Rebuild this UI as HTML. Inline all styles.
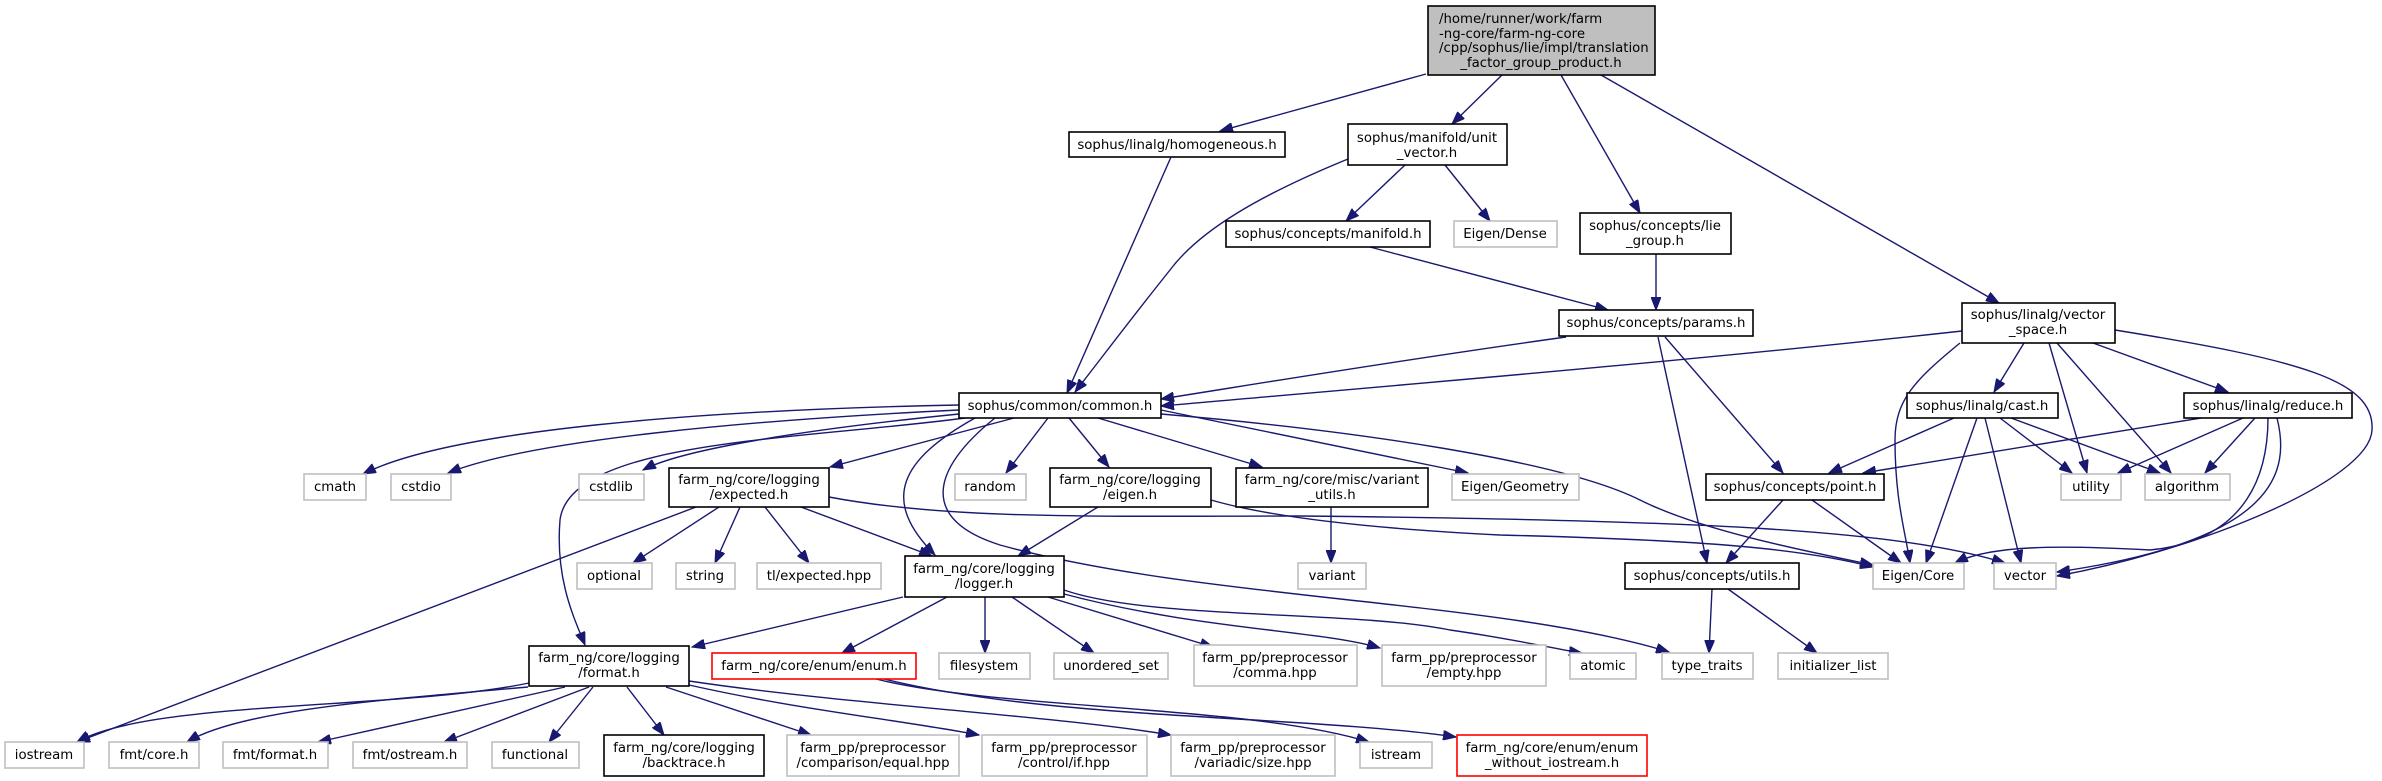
<!DOCTYPE html>
<html><head><meta charset="utf-8"><style>
html,body{margin:0;padding:0;background:#fff;}
svg{display:block;}
text{font-family:"DejaVu Sans","Liberation Sans",sans-serif;font-size:13.3px;fill:#000;}
.b{fill:#fff;stroke:#000;stroke-width:1.6;}
.g{fill:#fff;stroke:#bfbfbf;stroke-width:1.6;}
.r{fill:#fff;stroke:#ff0000;stroke-width:1.6;}
.e{fill:none;stroke:#191970;stroke-width:1.4;marker-end:url(#a);}
</style></head><body>
<svg width="2382" height="781" viewBox="0 0 2382 781" xmlns="http://www.w3.org/2000/svg">
<defs><marker id="a" markerUnits="userSpaceOnUse" markerWidth="14" markerHeight="10" refX="13" refY="5" orient="auto"><path d="M0,0 L13,5 L0,10 z" fill="#191970" stroke="#191970"/></marker></defs>

<!-- edges -->
<path class="e" d="M1426,74 L1220,131"/>
<path class="e" d="M1502,75 L1452,124"/>
<path class="e" d="M1561,75 L1640,213"/>
<path class="e" d="M1601,75 L1999,303"/>
<path class="e" d="M1171,157 L1067,393"/>
<path class="e" d="M1348,159 C1260,195 1200,230 1170,270 C1130,320 1100,360 1075,392"/>
<path class="e" d="M1405,165 L1346,221"/>
<path class="e" d="M1445,165 L1490,221"/>
<path class="e" d="M1370,247 L1608,310"/>
<path class="e" d="M1656,254 L1656,310"/>
<path class="e" d="M1566,337 C1400,360 1250,385 1161,399"/>
<path class="e" d="M1962,331 C1700,360 1400,385 1161,406"/>
<path class="e" d="M1658,337 L1707,563"/>
<path class="e" d="M1665,337 L1783,473"/>
<path class="e" d="M2024,343 L1994,392"/>
<path class="e" d="M2093,343 L2228,392"/>
<path class="e" d="M1960,343 C1915,380 1895,400 1895,440 C1895,500 1905,530 1910,563"/>
<path class="e" d="M2049,343 L2087,473"/>
<path class="e" d="M2057,343 L2171,473"/>
<path class="e" d="M2115,330 C2300,360 2375,380 2372,430 C2370,480 2200,550 2057,576"/>
<path class="e" d="M1954,418 L1829,473"/>
<path class="e" d="M1977,418 L1926,563"/>
<path class="e" d="M1985,418 L2021,563"/>
<path class="e" d="M2000,418 L2072,473"/>
<path class="e" d="M2011,418 L2160,473"/>
<path class="e" d="M2201,418 L1863,473"/>
<path class="e" d="M2243,418 L2118,473"/>
<path class="e" d="M2255,418 L2205,473"/>
<path class="e" d="M2268,418 C2268,470 2250,540 2150,550 C2060,545 1990,545 1955,563"/>
<path class="e" d="M2277,418 C2290,470 2280,540 2057,572"/>
<path class="e" d="M1783,500 L1726,563"/>
<path class="e" d="M1812,500 L1901,563"/>
<path class="e" d="M1712,589 L1709,653"/>
<path class="e" d="M1728,589 L1817,653"/>
<path class="e" d="M959,405 C700,410 450,430 363,474"/>
<path class="e" d="M959,410 C750,420 530,440 448,473"/>
<path class="e" d="M959,414 C800,430 680,450 643,470"/>
<path class="e" d="M1014,418 L830,467"/>
<path class="e" d="M1048,418 L1006,473"/>
<path class="e" d="M1069,418 L1109,467"/>
<path class="e" d="M1098,418 L1262,467"/>
<path class="e" d="M1161,410 L1468,473"/>
<path class="e" d="M1161,414 C1350,430 1560,460 1640,500 C1700,530 1800,550 1873,565"/>
<path class="e" d="M965,418 C800,440 570,440 560,520 C555,580 575,620 585,645"/>
<path class="e" d="M975,418 C900,460 880,500 935,555"/>
<path class="e" d="M995,418 C930,470 920,520 1000,545 C1200,600 1500,600 1669,652"/>
<path class="e" d="M696,507 L77,742"/>
<path class="e" d="M719,507 L633,563"/>
<path class="e" d="M740,507 L715,563"/>
<path class="e" d="M765,507 L809,563"/>
<path class="e" d="M801,507 L932,556"/>
<path class="e" d="M829,497 C950,520 1100,516 1300,516 C1700,520 1900,530 2005,563"/>
<path class="e" d="M1098,507 L1018,556"/>
<path class="e" d="M1211,500 C1280,520 1400,530 1500,535 C1700,540 1800,548 1873,567"/>
<path class="e" d="M1331,507 L1331,563"/>
<path class="e" d="M903,597 L692,647"/>
<path class="e" d="M947,597 L842,653"/>
<path class="e" d="M985,597 L985,653"/>
<path class="e" d="M1012,597 L1094,653"/>
<path class="e" d="M1048,597 L1213,647"/>
<path class="e" d="M1064,594 C1200,630 1320,630 1380,648"/>
<path class="e" d="M1064,590 C1150,620 1350,610 1450,630 C1520,640 1560,650 1582,653"/>
<path class="e" d="M529,683 C400,710 150,700 77,742"/>
<path class="e" d="M528,687 C380,700 240,710 187,742"/>
<path class="e" d="M565,687 L318,742"/>
<path class="e" d="M589,687 L444,742"/>
<path class="e" d="M593,687 L549,742"/>
<path class="e" d="M627,687 L664,735"/>
<path class="e" d="M666,687 L811,735"/>
<path class="e" d="M689,685 C800,710 900,720 979,735"/>
<path class="e" d="M689,681 C850,705 1050,715 1171,735"/>
<path class="e" d="M876,679 C1000,710 1250,705 1369,742"/>
<path class="e" d="M884,679 C1050,720 1300,715 1456,737"/>

<!-- nodes -->
<rect x="1428" y="6" width="227" height="69" fill="#bfbfbf" stroke="#000" stroke-width="1.6"/>
<text x="1439" y="23">/home/runner/work/farm</text>
<text x="1439" y="38">-ng-core/farm-ng-core</text>
<text x="1439" y="52">/cpp/sophus/lie/impl/translation</text>
<text x="1541" y="67" text-anchor="middle">_factor_group_product.h</text>

<g text-anchor="middle">
<rect class="b" x="1069" y="132" width="216" height="25"/><text x="1177" y="149">sophus/linalg/homogeneous.h</text>
<rect class="b" x="1348" y="124" width="159" height="41"/><text x="1427" y="142">sophus/manifold/unit</text><text x="1427" y="157">_vector.h</text>
<rect class="b" x="1226" y="221" width="204" height="26"/><text x="1328" y="238">sophus/concepts/manifold.h</text>
<rect class="g" x="1454" y="221" width="103" height="26"/><text x="1505" y="238">Eigen/Dense</text>
<rect class="b" x="1580" y="213" width="151" height="41"/><text x="1655" y="230">sophus/concepts/lie</text><text x="1655" y="245">_group.h</text>
<rect class="b" x="1559" y="310" width="194" height="26"/><text x="1656" y="327">sophus/concepts/params.h</text>
<rect class="b" x="1962" y="303" width="153" height="40"/><text x="2038" y="319">sophus/linalg/vector</text><text x="2038" y="334">_space.h</text>
<rect class="b" x="959" y="393" width="202" height="25"/><text x="1060" y="410">sophus/common/common.h</text>
<rect class="b" x="1907" y="393" width="151" height="25"/><text x="1982" y="410">sophus/linalg/cast.h</text>
<rect class="b" x="2184" y="393" width="168" height="25"/><text x="2268" y="410">sophus/linalg/reduce.h</text>

<rect class="g" x="304" y="474" width="62" height="26"/><text x="335" y="491">cmath</text>
<rect class="g" x="391" y="474" width="60" height="26"/><text x="421" y="491">cstdio</text>
<rect class="g" x="579" y="474" width="65" height="26"/><text x="611" y="491">cstdlib</text>
<rect class="b" x="669" y="468" width="160" height="39"/><text x="749" y="484">farm_ng/core/logging</text><text x="749" y="499">/expected.h</text>
<rect class="g" x="955" y="474" width="71" height="26"/><text x="990" y="491">random</text>
<rect class="b" x="1050" y="468" width="161" height="39"/><text x="1130" y="484">farm_ng/core/logging</text><text x="1130" y="499">/eigen.h</text>
<rect class="b" x="1236" y="468" width="192" height="39"/><text x="1332" y="484">farm_ng/core/misc/variant</text><text x="1332" y="499">_utils.h</text>
<rect class="g" x="1452" y="474" width="127" height="26"/><text x="1515" y="491">Eigen/Geometry</text>
<rect class="b" x="1706" y="474" width="178" height="26"/><text x="1795" y="491">sophus/concepts/point.h</text>
<rect class="g" x="2061" y="474" width="60" height="26"/><text x="2091" y="491">utility</text>
<rect class="g" x="2145" y="474" width="85" height="26"/><text x="2187" y="491">algorithm</text>

<rect class="g" x="577" y="563" width="75" height="26"/><text x="614" y="580">optional</text>
<rect class="g" x="676" y="563" width="59" height="26"/><text x="705" y="580">string</text>
<rect class="g" x="757" y="563" width="124" height="26"/><text x="819" y="580">tl/expected.hpp</text>
<rect class="b" x="905" y="556" width="159" height="41"/><text x="984" y="573">farm_ng/core/logging</text><text x="984" y="588">/logger.h</text>
<rect class="g" x="1298" y="563" width="68" height="26"/><text x="1332" y="580">variant</text>
<rect class="b" x="1625" y="563" width="174" height="26"/><text x="1712" y="580">sophus/concepts/utils.h</text>
<rect class="g" x="1873" y="563" width="91" height="26"/><text x="1918" y="580">Eigen/Core</text>
<rect class="g" x="1994" y="563" width="62" height="26"/><text x="2025" y="580">vector</text>

<rect class="b" x="529" y="646" width="160" height="40"/><text x="609" y="662">farm_ng/core/logging</text><text x="609" y="677">/format.h</text>
<rect class="r" x="712" y="653" width="204" height="26"/><text x="814" y="670">farm_ng/core/enum/enum.h</text>
<rect class="g" x="939" y="653" width="91" height="26"/><text x="984" y="670">filesystem</text>
<rect class="g" x="1054" y="653" width="114" height="26"/><text x="1111" y="670">unordered_set</text>
<rect class="g" x="1194" y="645" width="163" height="41"/><text x="1275" y="662">farm_pp/preprocessor</text><text x="1275" y="677">/comma.hpp</text>
<rect class="g" x="1382" y="645" width="164" height="41"/><text x="1464" y="662">farm_pp/preprocessor</text><text x="1464" y="677">/empty.hpp</text>
<rect class="g" x="1570" y="653" width="66" height="26"/><text x="1603" y="670">atomic</text>
<rect class="g" x="1662" y="653" width="91" height="26"/><text x="1707" y="670">type_traits</text>
<rect class="g" x="1778" y="653" width="110" height="26"/><text x="1833" y="670">initializer_list</text>

<rect class="g" x="5" y="742" width="79" height="26"/><text x="44" y="759">iostream</text>
<rect class="g" x="109" y="742" width="90" height="26"/><text x="154" y="759">fmt/core.h</text>
<rect class="g" x="223" y="742" width="105" height="26"/><text x="275" y="759">fmt/format.h</text>
<rect class="g" x="353" y="742" width="114" height="26"/><text x="410" y="759">fmt/ostream.h</text>
<rect class="g" x="492" y="742" width="87" height="26"/><text x="535" y="759">functional</text>
<rect class="b" x="604" y="735" width="160" height="41"/><text x="684" y="752">farm_ng/core/logging</text><text x="684" y="767">/backtrace.h</text>
<rect class="g" x="787" y="735" width="172" height="41"/><text x="873" y="752">farm_pp/preprocessor</text><text x="873" y="767">/comparison/equal.hpp</text>
<rect class="g" x="982" y="735" width="165" height="41"/><text x="1064" y="752">farm_pp/preprocessor</text><text x="1064" y="767">/control/if.hpp</text>
<rect class="g" x="1171" y="735" width="164" height="41"/><text x="1253" y="752">farm_pp/preprocessor</text><text x="1253" y="767">/variadic/size.hpp</text>
<rect class="g" x="1360" y="742" width="72" height="26"/><text x="1396" y="759">istream</text>
<rect class="r" x="1457" y="735" width="190" height="41"/><text x="1552" y="752">farm_ng/core/enum/enum</text><text x="1552" y="767">_without_iostream.h</text>
</g>
</svg>
</body></html>
